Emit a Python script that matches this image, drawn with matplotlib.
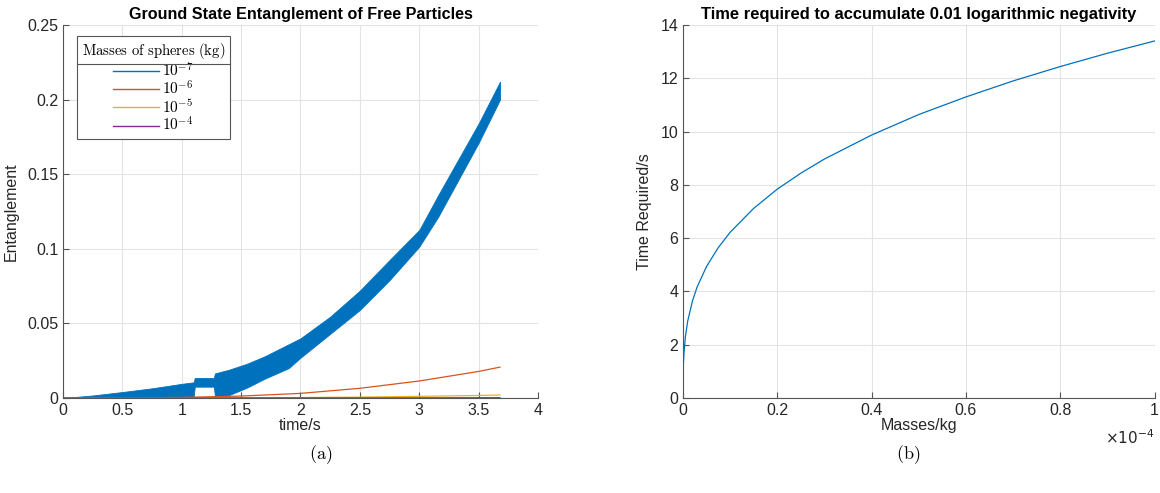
import numpy as np
import matplotlib
matplotlib.use("Agg")
import matplotlib.pyplot as plt
from matplotlib.lines import Line2D
from matplotlib.ticker import FuncFormatter

plt.rcParams['font.family'] = ['Liberation Sans', 'DejaVu Sans']
plt.rcParams['mathtext.fontset'] = 'cm'

#%% data
# (a) 1e-7 kg curve is a noisy band: lower / upper envelope
t_band = [0, 0.25, 0.5, 0.75, 1.0, 1.1, 1.11, 1.27, 1.28, 1.4, 1.55, 1.7, 1.9, 2.0,
          2.25, 2.5, 2.75, 3.0, 3.16, 3.5, 3.68]
band_hi = [0, 0.0017, 0.0040, 0.0065, 0.0095, 0.0105, 0.0134, 0.0134, 0.0165, 0.019,
           0.023, 0.028, 0.036, 0.040, 0.0545, 0.072, 0.0925, 0.1126, 0.136, 0.184, 0.212]
band_lo = [0, 0, 0, 0, 0.0005, 0.0008, 0.0076, 0.0076, 0.001, 0.002, 0.007, 0.013,
           0.020, 0.027, 0.043, 0.059, 0.079, 0.1014, 0.1215, 0.171, 0.200]

t_smooth = [0, 0.5, 1.0, 1.5, 2.0, 2.5, 3.0, 3.5, 3.68]
ent_1e6 = [0, 0.0001, 0.0004, 0.0013, 0.0031, 0.0065, 0.0114, 0.0178, 0.0207]
ent_1e5 = [0, 0, 0.00004, 0.00013, 0.0003, 0.0006, 0.0011, 0.0017, 0.0020]
ent_1e4 = [0, 0, 0, 0.00001, 0.00003, 0.00006, 0.00011, 0.00017, 0.0002]
labels = [r'$10^{-7}$', r'$10^{-6}$', r'$10^{-5}$', r'$10^{-4}$']

# (b) time needed vs mass (mass in kg)
masses = np.array([0.0004, 0.001, 0.002, 0.005, 0.01, 0.02, 0.03, 0.05, 0.075, 0.1,
                   0.15, 0.2, 0.25, 0.3, 0.4, 0.5, 0.6, 0.7, 0.8, 0.9, 1.0]) * 1e-4
t_req = [0.99, 1.34, 1.69, 2.29, 2.89, 3.64, 4.17, 4.94, 5.65, 6.22,
         7.12, 7.84, 8.44, 8.97, 9.87, 10.64, 11.30, 11.90, 12.44, 12.94, 13.40]

cols = ['#0072BD', '#D95319', '#EDB120', '#7E2F8E']
txt = '#262626'
gridc = '#e3e3e3'


def style(ax):
    ax.spines['top'].set_visible(False)
    ax.spines['right'].set_visible(False)
    for s in ['left', 'bottom']:
        ax.spines[s].set_color('#555555')
        ax.spines[s].set_linewidth(0.8)
    ax.tick_params(direction='in', length=4, width=0.8, colors='#555555',
                   labelcolor=txt, labelsize=11.5)
    ax.grid(True, color=gridc, linewidth=0.8)
    ax.set_axisbelow(True)


fig = plt.figure(figsize=(11.6, 4.93), dpi=100)
ax1 = fig.add_axes([0.0543, 0.1927, 0.4095, 0.7566])
ax2 = fig.add_axes([0.5888, 0.1927, 0.4065, 0.7566])

#%% (a)
style(ax1)
ax1.fill_between(t_band, band_lo, band_hi, color=cols[0], lw=0.6, edgecolor=cols[0])
ax1.plot(t_smooth, ent_1e6, color=cols[1], lw=0.9)
ax1.plot(t_smooth, ent_1e5, color=cols[2], lw=0.9)
ax1.plot(t_smooth, ent_1e4, color=cols[3], lw=0.9)
ax1.set_xlim(0, 4)
ax1.set_ylim(0, 0.25)
ax1.set_xticks(np.arange(0, 4.01, 0.5))
ax1.set_yticks(np.arange(0, 0.251, 0.05))
ax1.xaxis.set_major_formatter(FuncFormatter(lambda v, p: f'{v:g}'))
ax1.yaxis.set_major_formatter(FuncFormatter(lambda v, p: f'{v:g}'))
ax1.set_xlabel('time/s', fontsize=11.5, color=txt, labelpad=0)
ax1.set_ylabel('Entanglement', fontsize=11.5, color=txt, labelpad=6)
ax1.set_title('Ground State Entanglement of Free Particles', fontsize=11.6,
              fontweight='bold', color='black', pad=4)

handles = [Line2D([], [], color=c, lw=1) for c in cols]
leg = ax1.legend(handles, labels, title=r'$\mathrm{Masses\ of\ spheres\ (kg)}$',
                 loc='upper left', bbox_to_anchor=(0.03, 0.97), borderaxespad=0,
                 fontsize=11, title_fontsize=10.6, handlelength=3.0, handletextpad=0.2,
                 labelspacing=0.02, fancybox=False, framealpha=1, edgecolor='#555555',
                 borderpad=0.3)
leg.get_frame().set_linewidth(0.8)
leg._legend_box.align = 'center'

#%% (b)
style(ax2)
ax2.plot(masses, t_req, color=cols[0], lw=0.9)
ax2.set_xlim(0, 1e-4)
ax2.set_ylim(0, 14)
ax2.set_xticks(np.arange(0, 1.01e-4, 0.2e-4))
ax2.set_yticks(np.arange(0, 14.1, 2))
ax2.xaxis.set_major_formatter(FuncFormatter(lambda v, p: f'{v * 1e4:g}'))
ax2.set_xlabel('Masses/kg', fontsize=11.5, color=txt, labelpad=0)
ax2.set_ylabel('Time Required/s', fontsize=11.5, color=txt, labelpad=6)
ax2.set_title('Time required to accumulate 0.01 logarithmic negativity', fontsize=11.9,
              fontweight='bold', color='black', pad=4)
ax2.text(1.0, -0.105, r'$\times10^{-4}$', transform=ax2.transAxes, ha='right', va='center',
         fontsize=11, color=txt, math_fontfamily='dejavusans')

fig.text(0.276, 0.077, r'$\mathrm{(a)}$', ha='center', va='center', fontsize=13)
fig.text(0.783, 0.077, r'$\mathrm{(b)}$', ha='center', va='center', fontsize=13)

# separator line under the legend title (matlab style)
fig.canvas.draw()
r = fig.canvas.get_renderer()
fb = leg.get_frame().get_window_extent(r)
tb = leg.get_title().get_window_extent(r)
yl = tb.y0 - 3
fig.add_artist(Line2D([fb.x0 / fig.bbox.width, fb.x1 / fig.bbox.width],
                      [yl / fig.bbox.height, yl / fig.bbox.height],
                      transform=fig.transFigure, color='#555555', lw=0.8))

plt.savefig('out.png', dpi=100)
